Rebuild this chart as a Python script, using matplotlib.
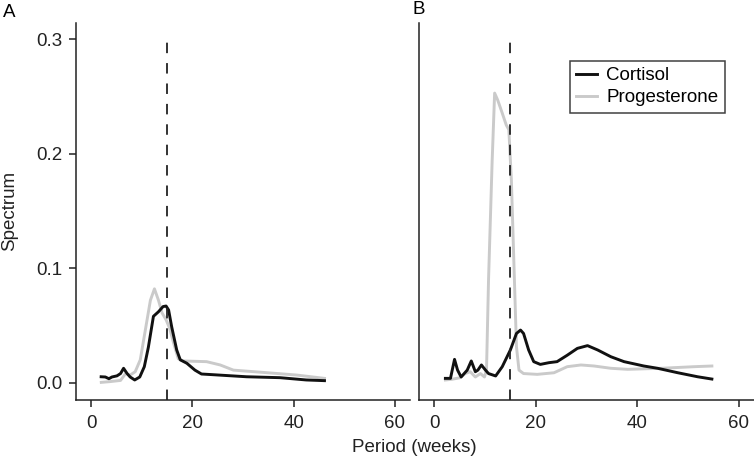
import matplotlib
matplotlib.use("Agg")
import matplotlib.pyplot as plt

plt.rcParams['font.family'] = ['Liberation Sans', 'DejaVu Sans']

# panel A
a_cort_x = [1.97, 2.8, 3.5, 4.1, 5.1, 5.8, 6.4, 7.1, 7.7, 8.6, 9.6, 10.5, 11.3, 12.3,
            13.3, 14.2, 14.8, 15.3, 15.9, 16.9, 17.6, 18.9, 20.5, 21.8, 24.1, 30.7,
            37.3, 42.5, 46.1]
a_cort_y = [0.0052, 0.005, 0.0035, 0.005, 0.006, 0.008, 0.0126, 0.008, 0.005, 0.0024,
            0.005, 0.014, 0.031, 0.058, 0.062, 0.0665, 0.067, 0.0635, 0.049, 0.0286,
            0.02, 0.017, 0.011, 0.0076, 0.007, 0.0052, 0.0044, 0.0024, 0.0018]
a_prog_x = [2.0, 3.8, 5.8, 6.8, 7.7, 8.7, 9.7, 10.7, 11.7, 12.5, 13.3, 14.0, 14.8, 15.5,
            16.3, 17.2, 18.2, 22.8, 25.5, 28.1, 34.0, 40.6, 46.1]
a_prog_y = [0.0003, 0.001, 0.002, 0.008, 0.0067, 0.0096, 0.02, 0.046, 0.072, 0.082,
            0.072, 0.061, 0.055, 0.0475, 0.0344, 0.021, 0.019, 0.0184, 0.0155, 0.011,
            0.009, 0.0067, 0.0038]

# panel B
b_cort_x = [2.2, 3.2, 4.0, 4.6, 5.3, 6.5, 7.3, 8.1, 8.6, 9.3, 10.1, 10.7, 12.1, 13.4,
            15.0, 16.2, 17.0, 17.6, 18.6, 19.6, 20.9, 22.6, 24.2, 26.2, 28.2, 30.2,
            32.2, 34.8, 37.4, 41.3, 44.0, 48.0, 51.9, 54.7]
b_cort_y = [0.0038, 0.0038, 0.0204, 0.011, 0.005, 0.011, 0.019, 0.0096, 0.011, 0.0155,
            0.011, 0.008, 0.0059, 0.014, 0.0286, 0.043, 0.046, 0.043, 0.0286, 0.0184,
            0.016, 0.0175, 0.0184, 0.024, 0.030, 0.0324, 0.0286, 0.0227, 0.0184,
            0.0146, 0.0126, 0.0087, 0.0052, 0.0032]
b_prog_x = [2.2, 3.5, 5.1, 6.1, 7.1, 8.1, 9.1, 9.9, 10.3, 10.7, 11.4, 11.9, 12.5, 13.4,
            14.2, 14.7, 15.2, 15.7, 16.2, 16.7, 17.6, 20.3, 23.6, 26.2, 28.9, 31.5,
            34.8, 38.1, 44.7, 51.2, 54.7]
b_prog_y = [0.0024, 0.003, 0.0044, 0.008, 0.0096, 0.005, 0.008, 0.005, 0.011, 0.09,
            0.192, 0.253, 0.247, 0.2355, 0.225, 0.221, 0.177, 0.104, 0.0315, 0.011,
            0.008, 0.0073, 0.0087, 0.014, 0.0155, 0.0146, 0.0126, 0.0117, 0.0126,
            0.014, 0.0146]

cutoff = 15
cort_color = '#111111'
prog_color = '#cacaca'
fs = 13.5

fig = plt.figure(figsize=(7.54, 4.59), dpi=100)
ax1 = fig.add_axes([76 / 754, 1 - 400 / 459, 334 / 754, 377.3 / 459])
ax2 = fig.add_axes([419 / 754, 1 - 400 / 459, 335 / 754, 377.3 / 459])

for ax, (cx, cy, px, py) in zip(
        [ax1, ax2],
        [(a_cort_x, a_cort_y, a_prog_x, a_prog_y),
         (b_cort_x, b_cort_y, b_prog_x, b_prog_y)]):
    ax.plot(px, py, color=prog_color, lw=2.1, label='Progesterone', zorder=2)
    ax.plot(cx, cy, color=cort_color, lw=2.1, label='Cortisol', zorder=3)
    ax.axvline(cutoff, ymax=0.973, color='#222222', lw=1.3, ls=(0, (5.8, 5.5)), zorder=4)
    ax.set_xlim(-3, 63)
    ax.set_ylim(-0.0151, 0.3145)
    ax.set_xticks([0, 20, 40, 60])
    ax.spines['top'].set_visible(False)
    ax.spines['right'].set_visible(False)
    for s in ['left', 'bottom']:
        ax.spines[s].set_color('#222222')
        ax.spines[s].set_linewidth(1.1)
    ax.tick_params(axis='x', length=5, width=1.1, color='#222222', pad=6,
                   labelsize=fs, labelcolor='#222222')
    ax.tick_params(axis='y', length=5, width=1.1, color='#222222', pad=5,
                   labelsize=fs, labelcolor='#222222')

ax1.set_yticks([0.0, 0.1, 0.2, 0.3])
ax1.set_yticklabels(['0.0', '0.1', '0.2', '0.3'])
ax2.set_yticks([])

handles, labels = ax2.get_legend_handles_labels()
leg = ax2.legend(handles[::-1], labels[::-1], loc='upper right',
                 bbox_to_anchor=(0.913, 0.899), borderaxespad=0, fontsize=fs,
                 frameon=True, fancybox=False, edgecolor='#111111',
                 handlelength=1.1, handletextpad=0.5, labelspacing=0.25,
                 borderpad=0.35)
leg.get_frame().set_linewidth(1.1)

fig.text(9.5 / 754, 1 - 12.5 / 459, 'A', fontsize=fs, ha='center', va='center')
fig.text(419 / 754, 1 - 10 / 459, 'B', fontsize=fs, ha='center', va='center')
fig.text(10 / 754, 1 - 211 / 459, 'Spectrum', fontsize=fs, rotation=90,
         ha='center', va='center', color='#222222')
fig.text(414 / 754, 1 - 447 / 459, 'Period (weeks)', fontsize=fs,
         ha='center', va='center', color='#222222')

fig.savefig('out.png', dpi=100)
